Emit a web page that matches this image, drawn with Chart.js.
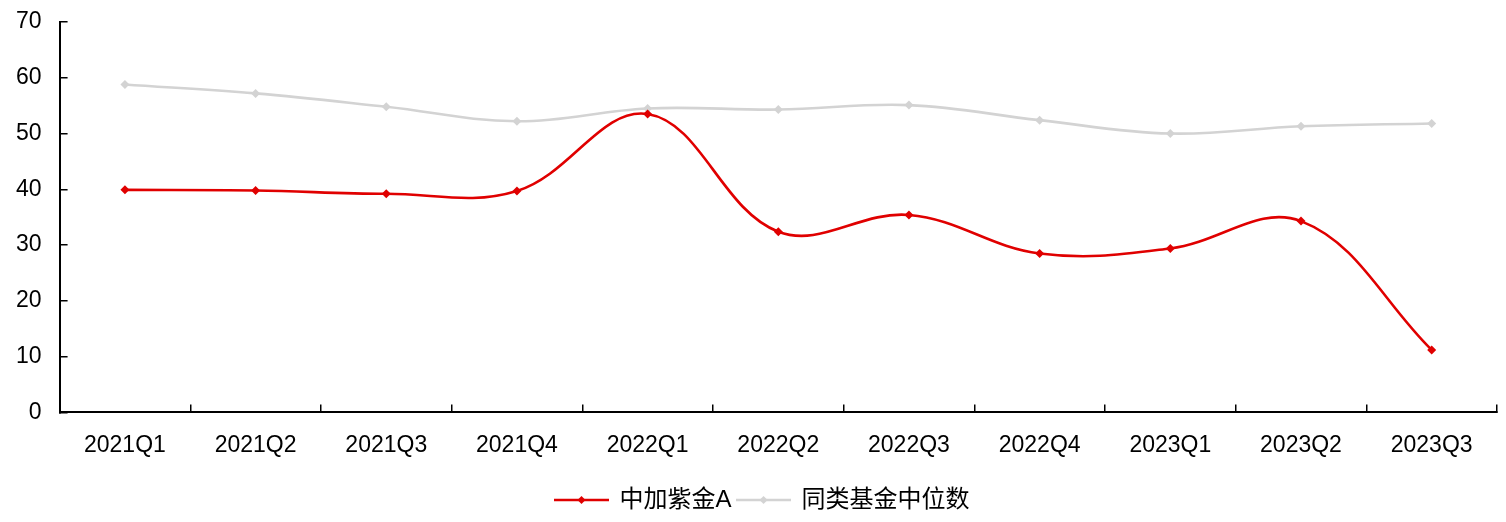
<!DOCTYPE html>
<html>
<head>
<meta charset="utf-8">
<script src="https://cdn.jsdelivr.net/npm/chart.js@4.4.1/dist/chart.umd.min.js"></script>
<style>
  html, body { margin: 0; padding: 0; background: #fff; }
  #wrap { width: 1506px; height: 522px; position: relative; }
</style>
</head>
<body>
<div id="wrap"><canvas id="chart"></canvas></div>
<script>
const quarters = ["2021Q1", "2021Q2", "2021Q3", "2021Q4", "2022Q1", "2022Q2", "2022Q3", "2022Q4", "2023Q1", "2023Q2", "2023Q3"];
const fundValues = [39.9, 39.8, 39.2, 39.7, 53.5, 32.4, 35.4, 28.5, 29.4, 34.3, 11.2];
const peerMedian = [58.8, 57.2, 54.8, 52.2, 54.5, 54.3, 55.1, 52.4, 50.0, 51.3, 51.8];
const seriesNames = ["中加紫金A", "同类基金中位数"];

const RED = "#e00000";
const GREY = "#d3d3d3";
const FONT = "'Liberation Sans', 'Noto Sans CJK SC', Arial, sans-serif";

// legend sample: short line with a diamond in the middle
function legendSample(color) {
  const c = document.createElement("canvas");
  c.width = 55;
  c.height = 12;
  const ctx = c.getContext("2d");
  ctx.strokeStyle = color;
  ctx.lineWidth = 2.5;
  ctx.beginPath();
  ctx.moveTo(0, 6);
  ctx.lineTo(55, 6);
  ctx.stroke();
  ctx.fillStyle = color;
  ctx.beginPath();
  ctx.moveTo(27.5, 2);
  ctx.lineTo(31.5, 6);
  ctx.lineTo(27.5, 10);
  ctx.lineTo(23.5, 6);
  ctx.closePath();
  ctx.fill();
  return c;
}

function lineDataset(label, data, color) {
  return {
    label,
    data,
    borderColor: color,
    backgroundColor: color,
    borderWidth: 2.6,
    tension: 0.38,
    pointStyle: "rectRot",
    pointRadius: 4.5,
    pointBorderWidth: 0,
    pointBackgroundColor: color,
    legendSample: legendSample(color),
  };
}

// the legend sits a little right of the canvas centre
const legendShift = {
  id: "legendShift",
  afterLayout(chart) {
    chart.legend.left += 38;
  },
};

new Chart(document.getElementById("chart"), {
  type: "line",
  data: {
    labels: quarters,
    datasets: [
      lineDataset(seriesNames[0], fundValues, RED),
      lineDataset(seriesNames[1], peerMedian, GREY),
    ],
  },
  plugins: [legendShift],
  options: {
    responsive: true,
    maintainAspectRatio: false,
    animation: false,
    devicePixelRatio: 1,
    layout: { padding: { left: -10, right: 9, top: 22, bottom: 0 } },
    plugins: {
      tooltip: { enabled: false },
      legend: {
        position: "bottom",
        labels: {
          usePointStyle: true,
          pointStyleWidth: 52,
          padding: 6,
          color: "#000",
          font: { family: FONT, size: 24 },
          generateLabels(chart) {
            return chart.data.datasets.map((ds, i) => ({
              text: ds.label,
              pointStyle: ds.legendSample,
              fillStyle: ds.borderColor,
              strokeStyle: ds.borderColor,
              lineWidth: 0,
              hidden: false,
              datasetIndex: i,
              fontColor: "#000",
            }));
          },
        },
      },
    },
    scales: {
      x: {
        offset: true,
        afterFit(scale) {
          scale.height -= 4;
        },
        grid: {
          offset: true,
          drawOnChartArea: false,
          drawTicks: true,
          tickLength: -8,
          color: "#000",
          lineWidth: 1.5,
        },
        border: { color: "#000", width: 2 },
        ticks: {
          color: "#000",
          padding: 27,
          maxRotation: 0,
          font: { family: FONT, size: 23 },
        },
      },
      y: {
        min: 0,
        max: 70,
        afterFit(scale) {
          scale.paddingTop = 0;
          scale.paddingBottom = 0;
        },
        grid: {
          drawOnChartArea: false,
          drawTicks: true,
          tickLength: -8,
          color: "#000",
          lineWidth: 1.5,
        },
        border: { color: "#000", width: 2 },
        ticks: {
          stepSize: 10,
          color: "#000",
          padding: 26,
          font: { family: FONT, size: 23 },
        },
      },
    },
  },
});
</script>
</body>
</html>
